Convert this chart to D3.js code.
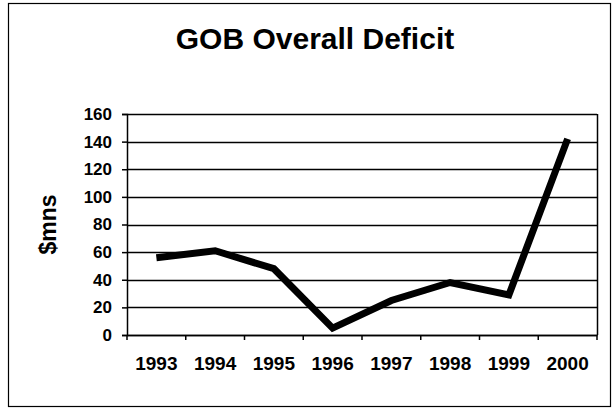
<!DOCTYPE html>
<html>
<head>
<meta charset="utf-8">
<script src="https://cdn.jsdelivr.net/npm/d3@7"></script>
<style>
  body { margin: 0; background: #fff; }
  text { font-family: "Liberation Sans", Arial, sans-serif; font-weight: bold; fill: #000; }
</style>
</head>
<body>
<div id="vis"></div>
<script>
var years = ['1993', '1994', '1995', '1996', '1997', '1998', '1999', '2000'];
var deficit = [56, 61, 48, 5, 25, 38, 29, 142];
var yTicks = [0, 20, 40, 60, 80, 100, 120, 140, 160];

var width = 615;
var height = 411;
var margin = { top: 114, right: 18, bottom: 76, left: 127 };
var plotW = width - margin.left - margin.right;
var plotH = height - margin.top - margin.bottom;

var svg = d3.select('#vis')
  .append('svg')
  .attr('width', width)
  .attr('height', height);

// outer chart frame
svg.append('rect')
  .attr('x', 8.5)
  .attr('y', 3.5)
  .attr('width', 602)
  .attr('height', 403)
  .attr('fill', 'none')
  .attr('stroke', '#000')
  .attr('stroke-width', 1.2);

svg.append('text')
  .attr('x', 315)
  .attr('y', 49)
  .attr('text-anchor', 'middle')
  .style('font-size', '30px')
  .text('GOB Overall Deficit');

var x = d3.scaleBand()
  .domain(years)
  .range([0, plotW]);

var y = d3.scaleLinear()
  .domain([0, 160])
  .range([plotH, 0]);

var g = svg.append('g')
  .attr('transform', 'translate(' + margin.left + ',' + margin.top + ')');

// gridlines
g.selectAll('.grid')
  .data(yTicks)
  .enter().append('line')
  .attr('class', 'grid')
  .attr('x1', 0)
  .attr('x2', plotW)
  .attr('y1', function (d) { return Math.round(y(d)) + 0.5; })
  .attr('y2', function (d) { return Math.round(y(d)) + 0.5; })
  .attr('stroke', '#000')
  .attr('stroke-width', 1.3);

// plot frame right side
g.append('line')
  .attr('x1', plotW + 0.5).attr('x2', plotW + 0.5)
  .attr('y1', 0).attr('y2', plotH)
  .attr('stroke', '#000')
  .attr('stroke-width', 1.5);

var yAxis = g.append('g')
  .call(d3.axisLeft(y).tickValues(yTicks).tickSize(5).tickPadding(10));

var xAxis = g.append('g')
  .attr('transform', 'translate(0,' + plotH + ')')
  .call(d3.axisBottom(x).tickSize(0).tickPadding(22));

// category boundary ticks on x axis
g.selectAll('.xtick')
  .data(years.concat(['end']))
  .enter().append('line')
  .attr('class', 'xtick')
  .attr('x1', function (d, i) { return i < years.length ? x(d) : plotW; })
  .attr('x2', function (d, i) { return i < years.length ? x(d) : plotW; })
  .attr('y1', plotH)
  .attr('y2', plotH + 5)
  .attr('stroke', '#000')
  .attr('stroke-width', 1.5);

[yAxis, xAxis].forEach(function (ax) {
  ax.selectAll('path, line').attr('stroke', '#000').attr('stroke-width', 1.5);
  ax.selectAll('text').style('font-size', '17px').style('font-family', null);
});
xAxis.selectAll('text').style('font-size', '19px');

// y axis title
svg.append('text')
  .attr('transform', 'translate(56,' + (margin.top + plotH / 2) + ') rotate(-90)')
  .attr('text-anchor', 'middle')
  .style('font-size', '23px')
  .text('$mns');

var line = d3.line()
  .x(function (d, i) { return x(years[i]) + x.bandwidth() / 2; })
  .y(function (d) { return y(d); });

g.append('path')
  .datum(deficit)
  .attr('d', line)
  .attr('fill', 'none')
  .attr('stroke', '#000')
  .attr('stroke-width', 7)
  .attr('stroke-linejoin', 'miter');
</script>
</body>
</html>
